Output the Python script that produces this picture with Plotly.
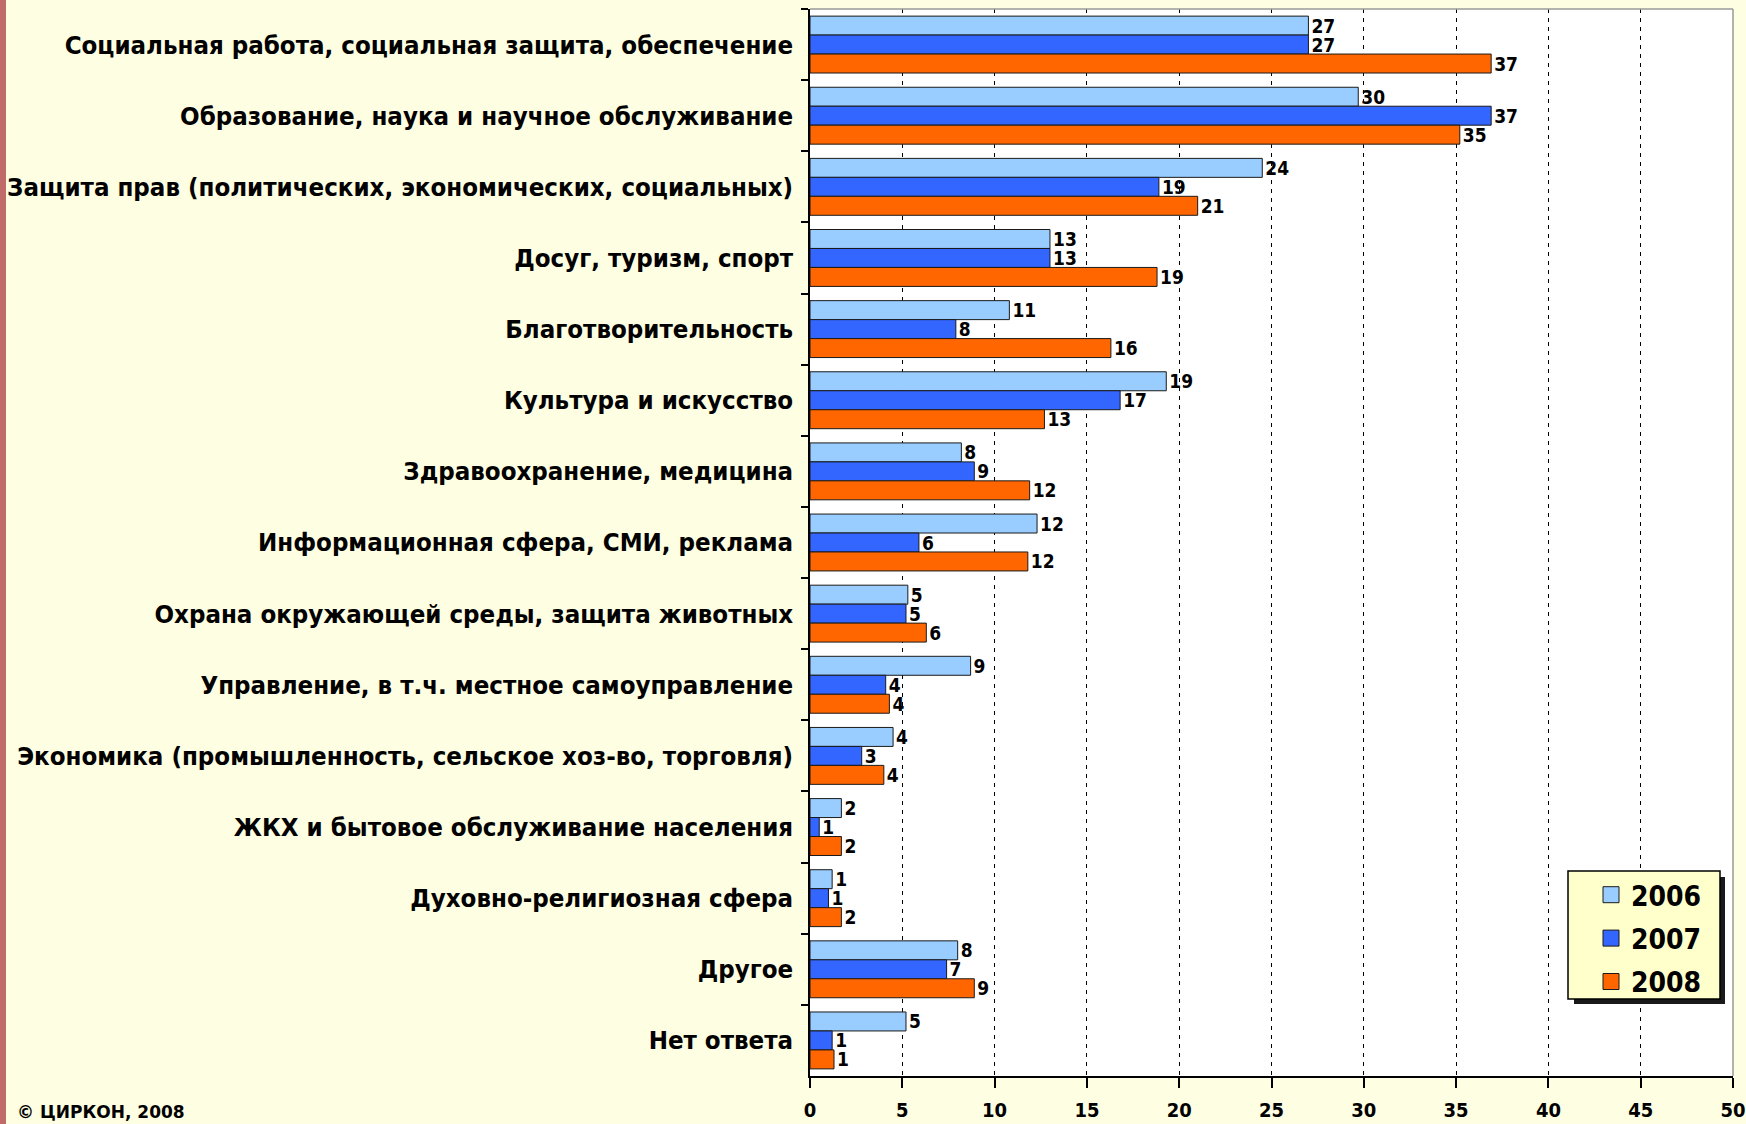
import plotly.graph_objects as go

categories = [
    "Социальная работа, социальная защита, обеспечение",
    "Образование, наука и научное обслуживание",
    "Защита прав (политических, экономических, социальных)",
    "Досуг, туризм, спорт",
    "Благотворительность",
    "Культура и искусство",
    "Здравоохранение, медицина",
    "Информационная сфера, СМИ, реклама",
    "Охрана окружающей среды, защита животных",
    "Управление, в т.ч. местное самоуправление",
    "Экономика (промышленность, сельское хоз-во, торговля)",
    "ЖКХ и бытовое обслуживание населения",
    "Духовно-религиозная сфера",
    "Другое",
    "Нет ответа",
]

years = ["2006", "2007", "2008"]

values_2006 = [27.0, 29.7, 24.5, 13.0, 10.8, 19.3, 8.2, 12.3, 5.3, 8.7, 4.5, 1.7, 1.2, 8.0, 5.2]
values_2007 = [27.0, 36.9, 18.9, 13.0, 7.9, 16.8, 8.9, 5.9, 5.2, 4.1, 2.8, 0.5, 1.0, 7.4, 1.2]
values_2008 = [36.9, 35.2, 21.0, 18.8, 16.3, 12.7, 11.9, 11.8, 6.3, 4.3, 4.0, 1.7, 1.7, 8.9, 1.3]

labels_2006 = [27, 30, 24, 13, 11, 19, 8, 12, 5, 9, 4, 2, 1, 8, 5]
labels_2007 = [27, 37, 19, 13, 8, 17, 9, 6, 5, 4, 3, 1, 1, 7, 1]
labels_2008 = [37, 35, 21, 19, 16, 13, 12, 12, 6, 4, 4, 2, 2, 9, 1]

colors = ["#99CCFF", "#3366FF", "#FF6600"]

x_ticks = [0, 5, 10, 15, 20, 25, 30, 35, 40, 45, 50]

W, H = 1746, 1124
PL, PR, PT, PB = 810, 1733, 9, 1076
BG = "#FEFEE2"


def px_x(p):
    return (p - PL) / (PR - PL)


def px_y(p):
    return (PB - p) / (PB - PT)


FONT = "DejaVu Sans Condensed, Liberation Sans Narrow, Arial Narrow, sans-serif"

fig = go.Figure()
for name, vals, labs, col in zip(
    years,
    [values_2006, values_2007, values_2008],
    [labels_2006, labels_2007, labels_2008],
    colors,
):
    fig.add_trace(
        go.Bar(
            name=name,
            y=categories,
            x=vals,
            orientation="h",
            marker=dict(color=col, line=dict(color="#1a1a1a", width=1)),
            text=[str(v) for v in labs],
            textposition="outside",
            constraintext="none",
            cliponaxis=False,
            textfont=dict(family=FONT, size=19, color="#000000", weight="bold"),
            hoverinfo="x+y",
            showlegend=False,
        )
    )

# legend entries with larger square swatches
for name, col in zip(years, colors):
    fig.add_trace(
        go.Scatter(
            name=name,
            legendgroup=name,
            x=[None],
            y=[None],
            mode="markers",
            marker=dict(symbol="square", size=16, color=col,
                        line=dict(color="#1a1a1a", width=1)),
            showlegend=True,
            hoverinfo="skip",
        )
    )

shapes = [
    # left red stripe
    dict(type="rect", xref="paper", yref="paper",
         x0=px_x(0), x1=px_x(6), y0=px_y(H), y1=px_y(0),
         fillcolor="#C06A6A", line=dict(width=0), layer="below"),
    # top and right gray border of plot area
    dict(type="line", xref="paper", yref="paper", x0=0, x1=1, y0=1, y1=1,
         line=dict(color="#9a9a9a", width=1.5)),
    dict(type="line", xref="paper", yref="paper", x0=1, x1=1, y0=0, y1=1,
         line=dict(color="#9a9a9a", width=1.5)),
    # legend shadow
    dict(type="rect", xref="paper", yref="paper",
         x0=px_x(1574), x1=px_x(1725), y0=px_y(1004), y1=px_y(877),
         fillcolor="#1a1a1a", line=dict(width=0), layer="above"),
    # legend box
    dict(type="rect", xref="paper", yref="paper",
         x0=px_x(1568), x1=px_x(1720), y0=px_y(999), y1=px_y(871),
         fillcolor="#FFFFCC", line=dict(color="#000000", width=1.5), layer="above"),
]

fig.update_layout(
    width=W,
    height=H,
    autosize=False,
    margin=dict(l=PL, r=W - PR, t=PT, b=H - PB, pad=0, autoexpand=False),
    paper_bgcolor=BG,
    plot_bgcolor="#FFFFFF",
    barmode="group",
    bargap=0.2,
    bargroupgap=0.0,
    showlegend=True,
    legend=dict(
        x=px_x(1591), y=px_y(870), xanchor="left", yanchor="top",
        bgcolor="rgba(0,0,0,0)", borderwidth=0,
        font=dict(family=FONT, size=28, color="#000000", weight="bold"),
        traceorder="grouped", itemwidth=30, tracegroupgap=4,
    ),
    shapes=shapes,
    annotations=[
        dict(text="© ЦИРКОН, 2008", xref="paper", yref="paper",
             x=px_x(15), y=px_y(1124), xanchor="left", yanchor="bottom",
             showarrow=False,
             font=dict(family="DejaVu Sans, sans-serif", size=17,
                       color="#000000", weight="bold")),
    ],
    font=dict(family=FONT, color="#000000"),
)

fig.update_xaxes(
    range=[0, 50],
    tickvals=x_ticks,
    ticks="outside",
    ticklen=10,
    tickcolor="#000000",
    tickwidth=1.5,
    showline=True,
    linecolor="#000000",
    linewidth=1.5,
    showgrid=True,
    gridcolor="#000000",
    gridwidth=1,
    griddash="4px,5px",
    zeroline=False,
    automargin=False,
    ticklabeloverflow="allow",
    tickfont=dict(family=FONT, size=20, color="#000000", weight="bold"),
    ticklabelstandoff=5,
)

fig.update_yaxes(
    autorange="reversed",
    type="category",
    tickson="boundaries",
    ticks="outside",
    ticklen=7,
    tickcolor="#000000",
    tickwidth=1.5,
    showline=True,
    linecolor="#000000",
    linewidth=1.5,
    showgrid=False,
    automargin=False,
    tickfont=dict(family=FONT, size=25.6, color="#000000", weight="bold"),
    ticklabelstandoff=10,
)

post = (
    "document.body.style.margin='0';"
    "document.body.style.padding='0';"
    "document.body.style.overflow='hidden';"
    "document.body.style.background='" + BG + "';"
)

fig.write_html("out.html", post_script=post,
               config={"displayModeBar": False, "responsive": False})
